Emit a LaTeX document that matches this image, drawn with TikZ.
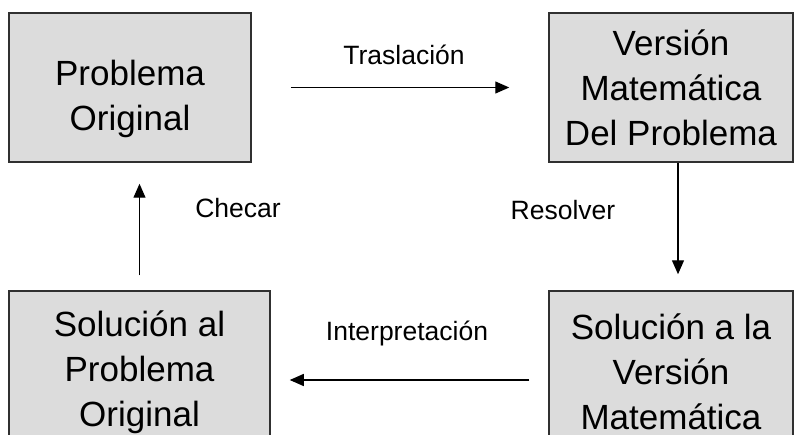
\documentclass[tikz,border=0pt]{standalone}
\usepackage{fontspec}
\setmainfont{Liberation Sans}
\usetikzlibrary{calc,positioning,arrows.meta}
\definecolor{color_box_fill}{HTML}{DCDCDC}
\definecolor{color_box_line}{HTML}{303030}

\begin{document}
\begin{tikzpicture}[x=1pt,y=1pt,
		caja/.style={draw=color_box_line,line width=1.5pt,fill=color_box_fill,
			align=center,inner sep=0pt,font=\fontsize{35}{45}\selectfont},
		texto/.style={align=center,inner sep=0pt,font=\fontsize{35}{45}\selectfont},
		flecha/.style={line width=1.3pt,-{Triangle[length=14pt,width=12pt]}},
		etiqueta/.style={font=\fontsize{26.5}{30}\selectfont,inner sep=0pt}]
				\useasboundingbox (0, 0) rectangle (794, 434);
				% Boxes
				\node[caja,minimum width=242pt,minimum height=149pt] (po) at (130, 346.5) {};
				\node[texto] (po-t) at ([yshift=-11pt]po.center) {Problema\\Original};
				\node[caja,minimum width=244pt,minimum height=149pt] (vm) at (671, 346.5)
					{Versión\\Matemática\\Del Problema};
				\node[caja,minimum width=261pt,minimum height=162pt] (sp) at (139.5, 62)
					{Solución al\\Problema\\Original};
				\node[caja,minimum width=244pt,minimum height=162pt] (sv) at (671, 62)
					{Solución a la\\Versión\\Matemática};
		
				% Arrows
				\draw[flecha, shorten <=39pt, shorten >=39pt]
					(po.east) -- (vm.west);
				\draw[flecha, shorten >=16pt]
					([xshift=7pt]vm.south) -- ([xshift=7pt]vm.south |- sv.north);
				\draw[flecha, shorten <=19pt, shorten >=19pt]
					([yshift=-8pt]sv.west) -- ([yshift=-8pt]sv.west -| sp.east);
				\draw[flecha, shorten <=15pt, shorten >=21pt]
					(sp.north) -- (sp.north |- po.south);
				
				% Labels
				\node[etiqueta] (traslacion) at (404, 379) {Traslación};
				\node[etiqueta] (resolver) at (563, 224) {Resolver};
				\node[etiqueta] (checar) at (238, 226) {Checar};
				\node[etiqueta] (interpretacion) at (407, 101) {Interpretación};
			\end{tikzpicture}
\end{document}
